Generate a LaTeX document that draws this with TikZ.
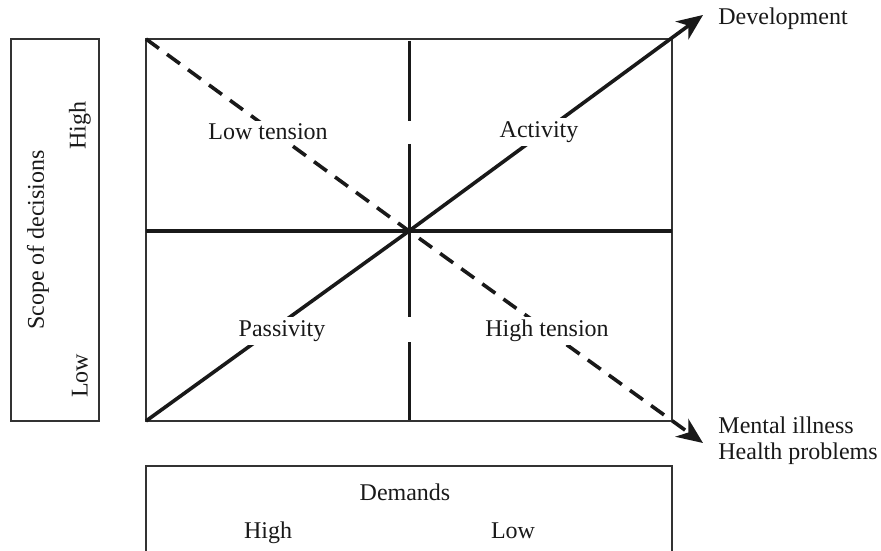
\documentclass[tikz,border=0pt]{standalone}
\usepackage{fontspec}
\setmainfont{Liberation Serif}
\usetikzlibrary{arrows.meta}
\begin{document}
\begin{tikzpicture}[x=0.5pt,y=-0.5pt,
  font=\fontsize{12}{14}\selectfont,
  thinbox/.style={draw, line width=0.6pt, black!80},
  thickline/.style={line width=1.8pt, black!90},
  dashline/.style={line width=1.8pt, black!90, dash pattern=on 8pt off 5pt},
  tip/.style={-{Stealth[length=13pt,width=11pt,inset=4pt]}},
  lbl/.style={inner sep=0pt, text=black!90},
  qlbl/.style={inner sep=1.5pt, fill=white, text=black!90}]
\useasboundingbox (0,0) rectangle (881,550);
% corners
\coordinate (TL) at (146,39);
\coordinate (TR) at (672,39);
\coordinate (BL) at (146,421);
\coordinate (BR) at (672,421);
\coordinate (C) at (409,231);
\coordinate (ML) at (146,231);
\coordinate (MR) at (672,231);
\coordinate (VT) at (409,41);
\coordinate (VG1) at (409,121);
\coordinate (VG2) at (409,144);
\coordinate (VG3) at (409,317);
\coordinate (VG4) at (409,342);
\coordinate (VB) at (409,420);
\coordinate (DevTip) at (703,15);
\coordinate (MenTip) at (703,443);
% boxes
\draw[thinbox] (TL) rectangle (BR);
\draw[thinbox] (11,39) rectangle (99,421);
\draw[thinbox] (146,556) -- (146,466) -- (672,466) -- (672,556);
% cross
\draw[thickline] (ML) -- (MR);
\draw[line width=1.5pt, black!90] (VT) -- (VG1) (VG2) -- (VG3) (VG4) -- (VB);
% diagonals
\draw[thickline, tip] (BL) -- (C) -- (DevTip);
\draw[dashline, tip] (TL) -- (C) -- (MenTip);
% quadrant labels
\node[qlbl] (lowt) at (268,132) {Low tension};
\node[qlbl] (act) at (539,132) {Activity};
\node[qlbl] (pas) at (282,331) {Passivity};
\node[qlbl] (hight) at (547,331) {High tension};
% outside labels
\node[lbl, anchor=west] (dev) at (718,19) {Development};
\node[lbl, anchor=west, align=left, font=\fontsize{12}{13}\selectfont] (men) at (718,441) {Mental illness\\Health problems};
\node[lbl, anchor=base] (dem) at (405,500) {Demands};
\node[lbl, anchor=base] (dhigh) at (268,538) {High};
\node[lbl, anchor=base] (dlow) at (513,538) {Low};
\node[lbl, rotate=90] (scope) at (38,240) {Scope of decisions};
\node[lbl, rotate=90] (shigh) at (80,126) {High};
\node[lbl, rotate=90] (slow) at (80,376) {Low};
\end{tikzpicture}
\end{document}
